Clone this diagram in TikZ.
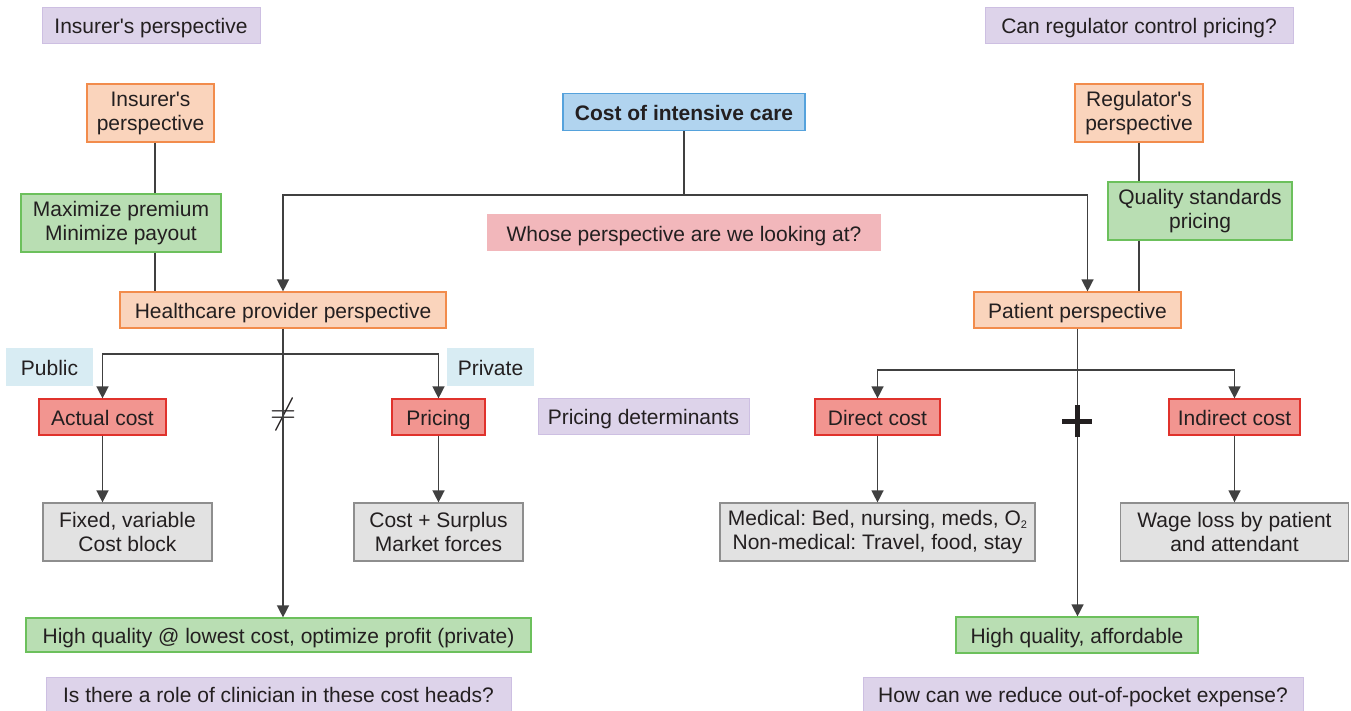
\documentclass[tikz,border=0pt]{standalone}
\usepackage{fontspec}
\setmainfont{Liberation Sans}
\usetikzlibrary{arrows.meta}

\definecolor{txt}{HTML}{231F20}
\definecolor{linec}{HTML}{404040}
\definecolor{orfill}{HTML}{FAD4BC}\definecolor{ordraw}{HTML}{F28C4C}
\definecolor{grfill}{HTML}{B9DEB3}\definecolor{grdraw}{HTML}{6CC05C}
\definecolor{rdfill}{HTML}{F29590}\definecolor{rddraw}{HTML}{E0322C}
\definecolor{gyfill}{HTML}{E2E2E2}\definecolor{gydraw}{HTML}{8E8E8E}
\definecolor{blfill}{HTML}{B1D4EF}\definecolor{bldraw}{HTML}{55A2DC}
\definecolor{pkfill}{HTML}{F2B7BB}
\definecolor{ppfill}{HTML}{DDD3EA}\definecolor{ppdraw}{HTML}{CDBFE2}
\definecolor{lbfill}{HTML}{D8ECF3}

\begin{document}
\frenchspacing
\begin{tikzpicture}[x=1pt,y=-1pt,
  font=\fontsize{21}{24}\selectfont,
  box/.style={draw, line width=1.2pt, inner sep=0pt, align=center, text=txt},
  one/.style={text height=19pt, text depth=2pt},
  obox/.style={box, fill=orfill, draw=ordraw},
  gbox/.style={box, fill=grfill, draw=grdraw},
  rbox/.style={box, fill=rdfill, draw=rddraw, one},
  ybox/.style={box, fill=gyfill, draw=gydraw},
  bbox/.style={box, fill=blfill, draw=bldraw, one},
  qbox/.style={box, fill=ppfill, draw=ppdraw, line width=0.8pt, one},
  kbox/.style={box, fill=pkfill, draw=pkfill, one},
  tag/.style={box, fill=lbfill, draw=lbfill, one},
  wh/.style={minimum width=#1},
  ht/.style={minimum height=#1},
  conn/.style={draw=linec, line width=1.4pt},
  arr/.style={conn, -{Triangle[length=12pt,width=12pt]}},
  plusmark/.style={draw=txt, line width=5pt}
]
\useasboundingbox (0,0) rectangle (1351,710);

% questions framing the chart
\node[qbox, wh=218pt, ht=36pt] (insq) at (151,25) {Insurer\textquotesingle s perspective};
\node[qbox, wh=308pt, ht=36pt] (regq) at (1139,25) {Can regulator control pricing?};
\node[qbox, wh=211pt, ht=36pt] (detq) at (643.5,416) {Pricing determinants};
\node[qbox, wh=465pt, ht=34pt] (roleq) at (278.5,694) {Is there a role of clinician in these cost heads?};
\node[qbox, wh=440pt, ht=34pt] (oopq) at (1083,694) {How can we reduce out-of-pocket expense?};

% root
\node[bbox, wh=242pt, ht=37pt] (cost) at (684,112) {\textbf{Cost of intensive care}};
\node[kbox, wh=392pt, ht=35pt] (whose) at (684,232.5) {Whose perspective are we looking at?};

% perspectives
\node[obox, wh=127pt, ht=58pt] (ins) at (150.5,113) {Insurer\textquotesingle s\\perspective};
\node[gbox, wh=200pt, ht=58pt] (maxi) at (121,223) {Maximize premium\\Minimize payout};
\node[obox, one, wh=326pt, ht=36pt] (hc) at (283,310) {Healthcare provider perspective};
\node[obox, wh=128pt, ht=58pt] (reg) at (1139,113) {Regulator\textquotesingle s\\perspective};
\node[gbox, wh=184pt, ht=58pt] (qual) at (1200,211) {Quality standards\\pricing};
\node[obox, one, wh=207pt, ht=36pt] (pat) at (1077.5,310) {Patient perspective};

% provider branch
\node[tag, wh=85pt, ht=36pt] (pub) at (49.5,367) {Public};
\node[tag, wh=85pt, ht=36pt] (priv) at (490.5,367) {Private};
\node[rbox, wh=127pt, ht=36pt] (actual) at (102.5,417) {Actual cost};
\node[rbox, wh=93pt, ht=36pt] (pricing) at (438.5,417) {Pricing};
\node[ybox, wh=169pt, ht=58pt] (fixed) at (127.5,532) {Fixed, variable\\Cost block};
\node[ybox, wh=169pt, ht=58pt] (surplus) at (438.5,532) {Cost + Surplus\\Market forces};
\node[gbox, one, wh=505pt, ht=34pt] (hq1) at (278.5,635) {High quality @ lowest cost, optimize profit (private)};
\node[text=txt, inner sep=0pt] (neq) at (283,414) {\resizebox*{26pt}{32pt}{$\neq$}};

% patient branch
\node[rbox, wh=125pt, ht=36pt] (direct) at (877.5,417) {Direct cost};
\node[rbox, wh=131pt, ht=36pt] (indirect) at (1234.5,417) {Indirect cost};
\node[ybox, wh=315pt, ht=58pt] (medical) at (877.5,532)
  {Medical: Bed, nursing, meds, O\raisebox{-3pt}{\fontsize{11}{11}\selectfont 2}\\Non-medical: Travel, food, stay};
\node[ybox, wh=228pt, ht=58pt] (wage) at (1234.5,532) {Wage loss by patient\\and attendant};
\node[gbox, one, wh=242pt, ht=36pt] (hq2) at (1077,635) {High quality, affordable};

% split points
\coordinate (top) at (684,195);
\coordinate (lsplit) at (283,354);
\coordinate (rsplit) at (1077,370);
\coordinate (insx) at (155,0);
\coordinate (plus) at (1077,421);

% connectors
\draw[conn] (cost.south) -- (top);
\draw[arr] (top) -| (hc.north);
\draw[arr] (top) -| ([xshift=10pt]pat.north);
\draw[conn] (ins.south -| insx) -- (maxi.north -| insx);
\draw[conn] (maxi.south -| insx) -- (hc.north -| insx);
\draw[conn] (reg.south) -- (reg.south |- qual.north);
\draw[conn] (qual.south -| reg.south) -- (pat.north -| reg.south);

\draw[arr] (hc.south) -- (hc.south |- hq1.north);
\draw[arr] (lsplit) -| (actual.north);
\draw[arr] (lsplit) -| (pricing.north);
\draw[arr] (actual.south) -- (actual.south |- fixed.north);
\draw[arr] (pricing.south) -- (surplus.north);

\draw[arr] (pat.south) -- (pat.south |- hq2.north);
\draw[arr] (rsplit) -| (direct.north);
\draw[arr] (rsplit) -| (indirect.north);
\draw[arr] (direct.south) -- (medical.north);
\draw[arr] (indirect.south) -- (indirect.south |- wage.north);

% plus sign between the two patient cost heads
\draw[plusmark] ([xshift=-15pt]plus) -- ([xshift=15pt]plus);
\draw[plusmark] ([yshift=-16pt]plus) -- ([yshift=16pt]plus);
\end{tikzpicture}
\end{document}
